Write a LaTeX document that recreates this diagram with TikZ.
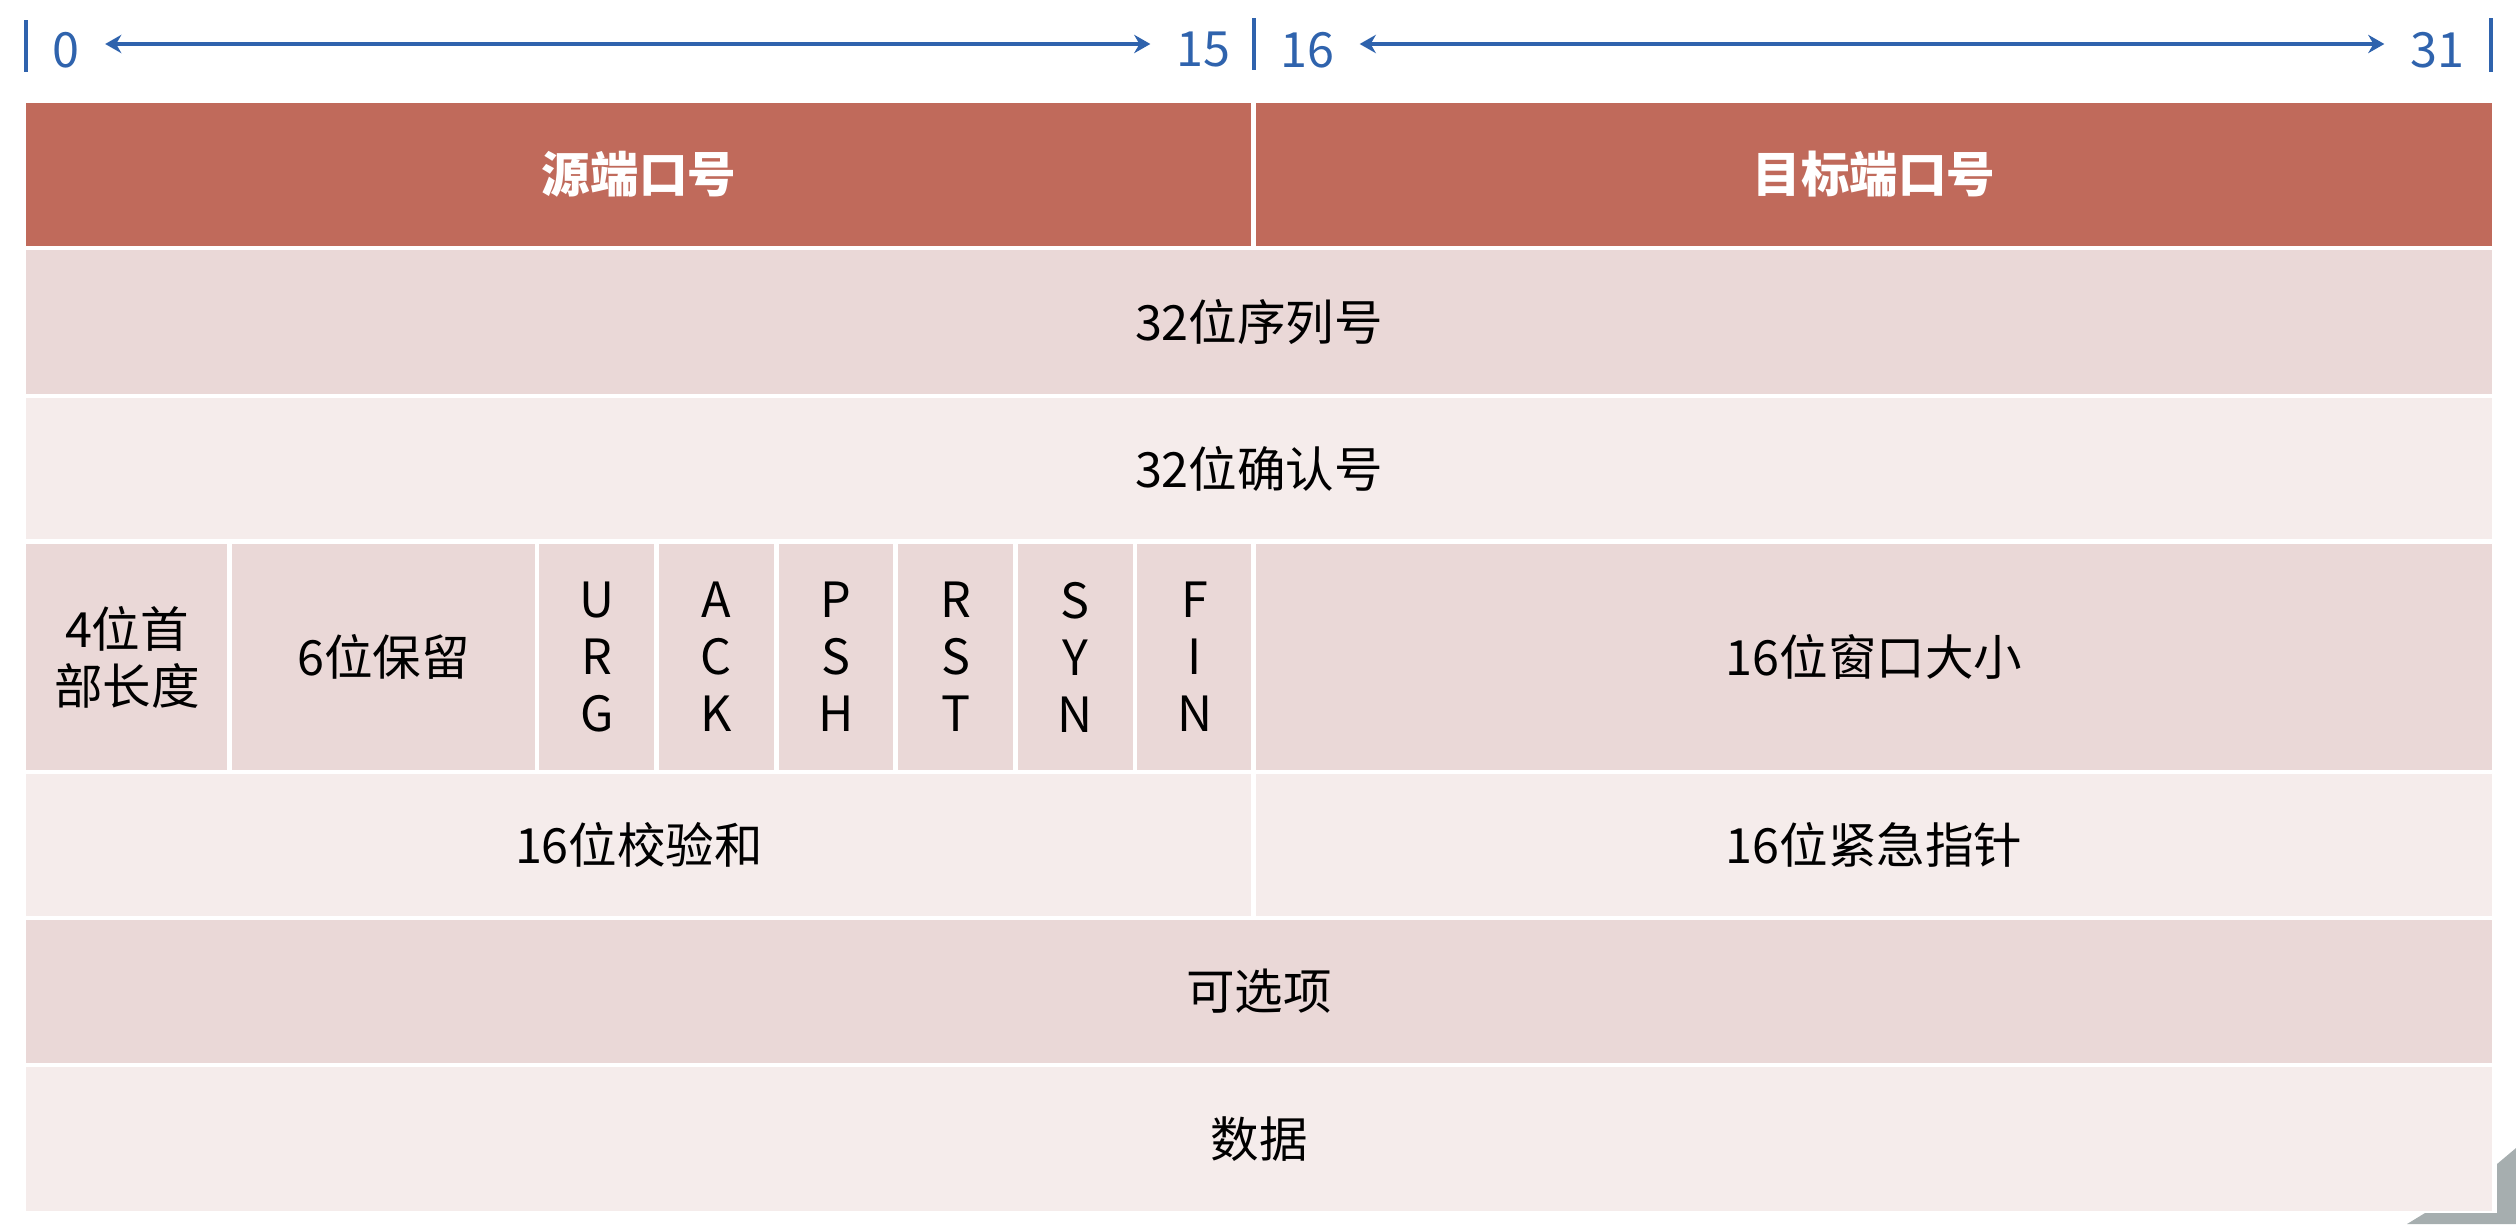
\documentclass[tikz,border=0pt]{standalone}
\usepackage{fontspec}
\setmainfont{Noto Sans CJK SC}
\usetikzlibrary{arrows.meta}

\definecolor{hdrred}{RGB}{192,106,91}
\definecolor{rowdark}{RGB}{234,216,215}
\definecolor{rowlight}{RGB}{245,236,235}
\definecolor{rulerblue}{RGB}{47,99,173}
\definecolor{cornergray}{RGB}{166,174,175}

\begin{document}
\begin{tikzpicture}[x=0.01cm,y=-0.01cm,
    field/.style={draw=white,line width=1.4pt,inner sep=0pt,
      font=\fontsize{13.8pt}{16.2pt}\selectfont,align=center},
    hdrfield/.style={field,fill=hdrred,text=white,font=\fontsize{13.8pt}{16.2pt}\selectfont\bfseries},
    bitnum/.style={text=rulerblue,inner sep=0pt,font=\fontsize{13.8pt}{16.2pt}\selectfont},
    tick/.style={rulerblue,line width=0.9pt},
    span/.style={rulerblue,line width=0.9pt,{Stealth[length=4.6pt,width=5.2pt]}-{Stealth[length=4.6pt,width=5.2pt]},
      shorten <=0.25cm,shorten >=0.25cm}]
    \useasboundingbox (0,0) rectangle (2516,1224);
    % bit ruler
    \draw[tick] (26,20) -- (26,72);
    \draw[tick] (1254,18) -- (1254,70);
    \draw[tick] (2491,18) -- (2491,72);
    \node[bitnum] (b0) at (66,50) {0};
    \node[bitnum] (b15) at (1203,50) {15};
    \node[bitnum] (b16) at (1307,50) {16};
    \node[bitnum] (b31) at (2437,50) {31};
    \draw[span] (b0.east |- 0,44) -- (b15.west |- 0,44);
    \draw[span] (b16.east |- 0,44) -- (b31.west |- 0,44);
    % ports
    \node[hdrfield,minimum width=12.3cm,minimum height=1.47cm] (srcport) at (639,174.5) {源端口号};
    \node[hdrfield,minimum width=12.4cm,minimum height=1.47cm] (dstport) at (1874,174.5) {目标端口号};
    % seq and ack
    \node[field,fill=rowdark,minimum width=24.7cm,minimum height=1.48cm] (seqnum) at (1259,322) {32位序列号};
    \node[field,fill=rowlight,minimum width=24.7cm,minimum height=1.46cm] (acknum) at (1259,469) {32位确认号};
    % header length, reserved, flags, window
    \node[field,fill=rowdark,minimum width=2.06cm,minimum height=2.3cm] (hdrlen) at (127,657) {4位首\\部长度};
    \node[field,fill=rowdark,minimum width=3.07cm,minimum height=2.3cm] (rsvd) at (383.5,657) {6位保留};
    \foreach \flag [count=\i from 0] in {U\\R\\G, A\\C\\K, P\\S\\H, R\\S\\T, S\\Y\\N, F\\I\\N}
      \node[field,fill=rowdark,minimum width=1.196cm,minimum height=2.3cm] (flag\i) at (596.8+119.6*\i,657) {\flag};
    \node[field,fill=rowdark,minimum width=12.4cm,minimum height=2.3cm] (window) at (1874,657) {16位窗口大小};
    % checksum and urgent pointer
    \node[field,fill=rowlight,minimum width=12.3cm,minimum height=1.46cm] (chksum) at (639,845) {16位校验和};
    \node[field,fill=rowlight,minimum width=12.4cm,minimum height=1.46cm] (urgptr) at (1874,845) {16位紧急指针};
    % options and data
    \node[field,fill=rowdark,minimum width=24.7cm,minimum height=1.47cm] (opts) at (1259,991.5) {可选项};
    \node[field,fill=rowlight,minimum width=24.7cm,minimum height=1.48cm] (payload) at (1259,1139) {数据};
    % page corner
    \fill[cornergray] (2497,1164) -- (2516,1148) -- (2516,1224) -- (2407,1224) -- (2425,1213) -- (2497,1213) -- cycle;
  \end{tikzpicture}
\end{document}
